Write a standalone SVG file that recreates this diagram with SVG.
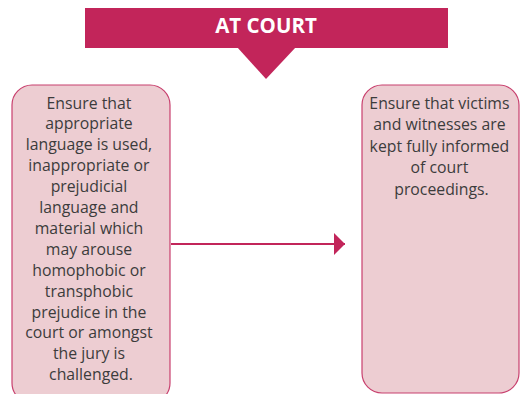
<svg xmlns="http://www.w3.org/2000/svg" width="520" height="394" viewBox="0 0 520 394">
  <style>
    .box { fill: #EDCDD2; stroke: #C8406E; stroke-width: 1.2; }
    .txt { font-family: "Open Sans", "Noto Sans", "Liberation Sans", sans-serif; font-size: 15.8px; fill: #3c3c3c; text-anchor: middle; }
    .head { font-family: "Open Sans", "Noto Sans", "Liberation Sans", sans-serif; font-size: 20.5px; font-weight: bold; fill: #ffffff; text-anchor: middle; }
    .conn { stroke: #C2255A; stroke-width: 2; fill: none; }
  </style>
  <defs>
    <marker id="arrow" markerUnits="userSpaceOnUse" markerWidth="12" markerHeight="22" refX="11" refY="11" orient="auto">
      <path d="M0,0 L11,11 L0,22 Z" fill="#C2255A"/>
    </marker>
  </defs>
  <g id="header">
    <rect x="85" y="8" width="363" height="40" fill="#C2255A"/>
    <path d="M237,47 L296,47 L266,79 Z" fill="#C2255A"/>
    <text class="head" x="266" y="33">AT COURT</text>
  </g>
  <g id="left-box">
    <rect class="box" x="12" y="85" width="158" height="318" rx="20" ry="20"/>
    <text class="txt" x="91" y="108.5">
      <tspan x="91" dy="0">Ensure that</tspan>
      <tspan x="91" dy="20.9">appropriate</tspan>
      <tspan x="91" dy="20.9">language is used,</tspan>
      <tspan x="91" dy="20.9">inappropriate or</tspan>
      <tspan x="91" dy="20.9">prejudicial</tspan>
      <tspan x="91" dy="20.9">language and</tspan>
      <tspan x="91" dy="20.9">material which</tspan>
      <tspan x="91" dy="20.9">may arouse</tspan>
      <tspan x="91" dy="20.9">homophobic or</tspan>
      <tspan x="91" dy="20.9">transphobic</tspan>
      <tspan x="91" dy="20.9">prejudice in the</tspan>
      <tspan x="91" dy="20.9">court or amongst</tspan>
      <tspan x="91" dy="20.9">the jury is</tspan>
      <tspan x="91" dy="20.9">challenged.</tspan>
    </text>
  </g>
  <g id="right-box">
    <rect class="box" x="362" y="85" width="157" height="308" rx="20" ry="20"/>
    <text class="txt" x="441.5" y="108.5">
      <tspan x="441.5" dy="0">Ensure that victims</tspan>
      <tspan x="441.5" dy="21.5">and witnesses are</tspan>
      <tspan x="441.5" dy="21.5">kept fully informed</tspan>
      <tspan x="441.5" dy="21.5">of court</tspan>
      <tspan x="441.5" dy="21.5">proceedings.</tspan>
    </text>
  </g>
  <g id="connectors">
    <line class="conn" x1="171" y1="244" x2="345" y2="244" marker-end="url(#arrow)"/>
  </g>
</svg>
